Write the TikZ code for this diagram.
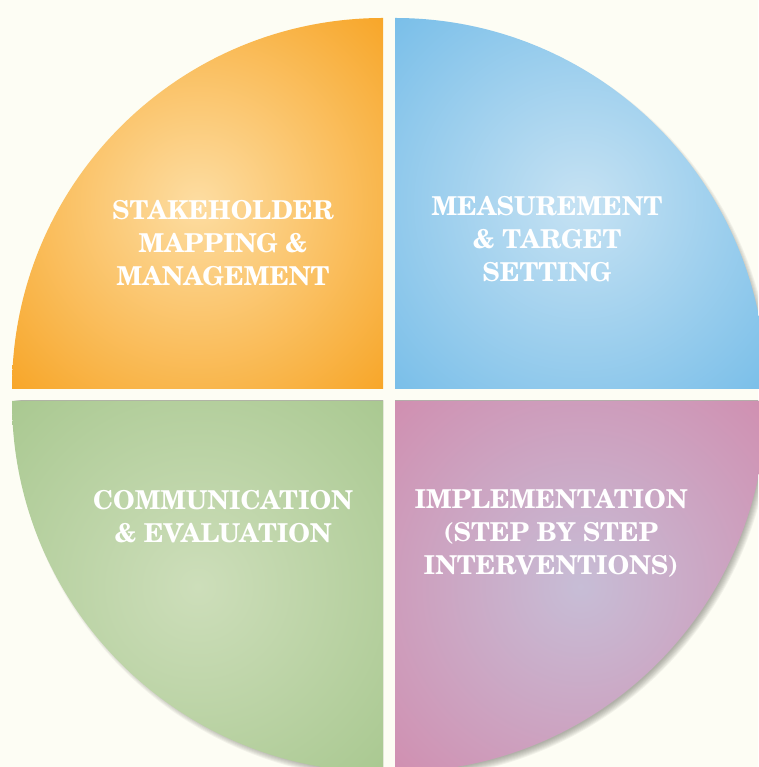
\documentclass[tikz,border=0pt]{standalone}
\usepackage{fontspec}
\newfontfamily\scholabold{TeX Gyre Schola}[BoldFont={* Bold}]

\definecolor{paper}{HTML}{FDFDF4}
\definecolor{shadowtone}{HTML}{5E5E56}
\definecolor{orangeIn}{HTML}{FDDDA2}
\definecolor{orangeOut}{HTML}{F7A220}
\definecolor{blueIn}{HTML}{C6E2F3}
\definecolor{blueOut}{HTML}{74BCE8}
\definecolor{greenIn}{HTML}{CDDEBA}
\definecolor{greenOut}{HTML}{A7C78E}
\definecolor{pinkIn}{HTML}{C7BDD6}
\definecolor{pinkOut}{HTML}{D18CAE}

\pgfdeclareradialshading{orangeglow}{\pgfpoint{0bp}{0bp}}{color(0bp)=(orangeIn); color(38bp)=(orangeOut); color(80bp)=(orangeOut)}
\pgfdeclareradialshading{blueglow}{\pgfpoint{0bp}{0bp}}{color(0bp)=(blueIn); color(38bp)=(blueOut); color(80bp)=(blueOut)}
\pgfdeclareradialshading{greenglow}{\pgfpoint{0bp}{0bp}}{color(0bp)=(greenIn); color(38bp)=(greenOut); color(80bp)=(greenOut)}
\pgfdeclareradialshading{pinkglow}{\pgfpoint{0bp}{0bp}}{color(0bp)=(pinkIn); color(38bp)=(pinkOut); color(80bp)=(pinkOut)}

\tikzstyle{quadtext} = [text=white, align=center, inner sep=0,
  font=\scholabold\bfseries\fontsize{26}{33}\selectfont]
\tikzstyle{shadowring} = [fill=shadowtone, opacity=0.075]

\begin{document}
\begin{tikzpicture}[x=1pt, y=1pt]
  \useasboundingbox (0,0) rectangle (758,767);
  \fill[paper] (0,0) rectangle (758,767);

  % soft shadows
  \begin{scope}
    \clip (395,378) rectangle (758,767);
    \foreach \k in {0,...,7}
      \fill[shadowring] (399,373) circle[radius={(366+\k)*1pt}];
  \end{scope}
  \begin{scope}
    \clip (395,366) rectangle (758,0);
    \foreach \k in {0,...,7}
      \fill[shadowring] (399,361) circle[radius={(366+\k)*1pt}];
  \end{scope}
  \begin{scope}
    \clip (383,366) rectangle (0,0);
    \foreach \k in {0,...,7}
      \fill[shadowring] (387,361) circle[radius={(366+\k)*1pt}];
  \end{scope}

  % quadrants
  \shade[shading=orangeglow] (383,378) -- (12,378) arc[start angle=180, end angle=90, radius=371pt] -- cycle;
  \shade[shading=blueglow] (395,378) -- (395,749) arc[start angle=90, end angle=0, radius=371pt] -- cycle;
  \shade[shading=greenglow] (383,366) -- (12,366) arc[start angle=180, end angle=270, radius=371pt] -- cycle;
  \shade[shading=pinkglow] (395,366) -- (766,366) arc[start angle=0, end angle=-90, radius=371pt] -- cycle;

  \node at (223,524) [quadtext] (stake) {STAKEHOLDER\\MAPPING \&\\MANAGEMENT};
  \node at (547,528) [quadtext] (measure) {MEASUREMENT\\\& TARGET\\SETTING};
  \node at (223,250) [quadtext] (comm) {COMMUNICATION\\\& EVALUATION};
  \node at (551,234) [quadtext] (implement) {IMPLEMENTATION\\(STEP BY STEP\\INTERVENTIONS)};
\end{tikzpicture}
\end{document}
